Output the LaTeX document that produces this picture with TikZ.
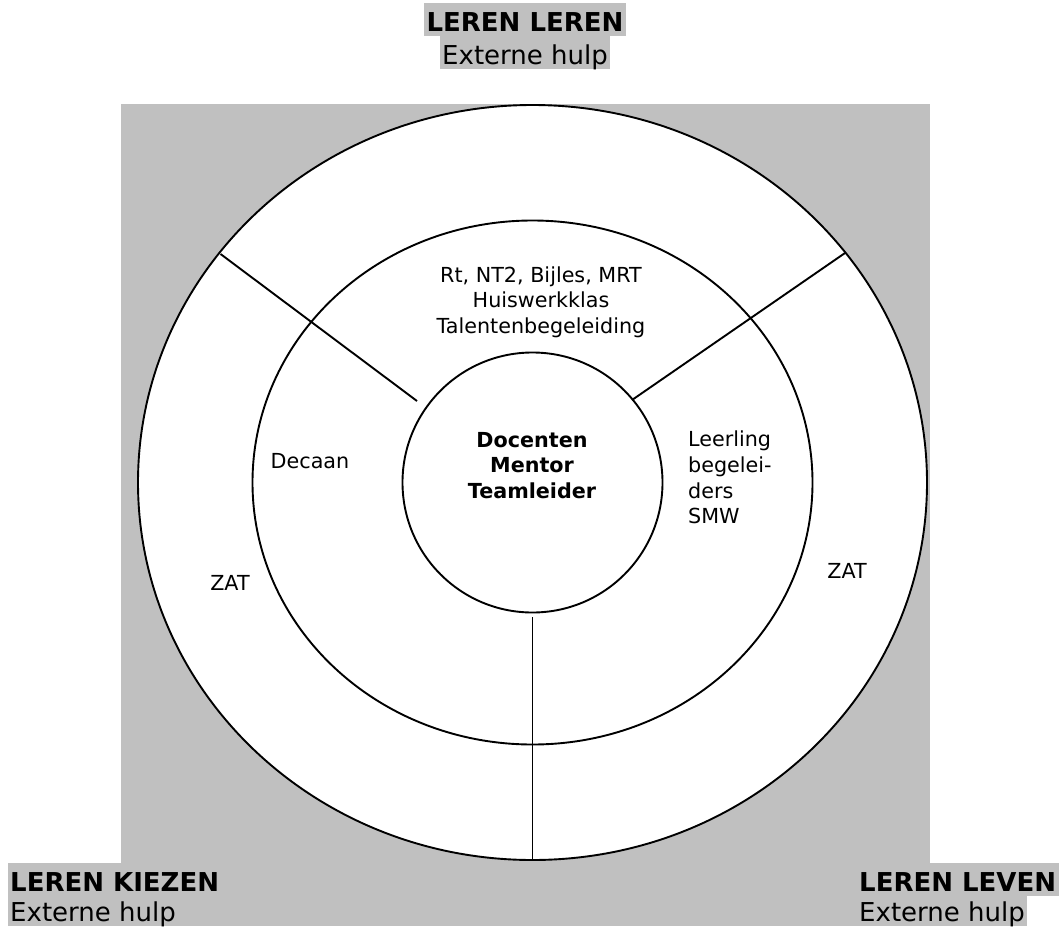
\documentclass[tikz,border=0pt]{standalone}
\usepackage{fontspec}
\setmainfont{DejaVu Sans}
\usetikzlibrary{shapes.geometric}
\definecolor{silverbg}{RGB}{192,192,192}
\begin{document}
\begin{tikzpicture}[x=1pt,y=-1pt,
  ring/.style={ellipse, draw=black, line width=1.9pt, fill=white, inner sep=0pt},
  divider/.style={draw=black, line width=1.9pt},
  lbl/.style={font=\fontsize{20.7}{25.7}\selectfont, inner sep=0pt},
  hdr/.style={font=\fontsize{26}{33}\selectfont, fill=silverbg, inner xsep=2.5pt, inner ysep=0pt, text height=28pt, text depth=5pt}]
\useasboundingbox (0,0) rectangle (1062,926);
\fill[silverbg] (121,104) rectangle (930,926);
% rings
\node[ring, minimum width=789pt, minimum height=755pt] (outer) at (532.5,482.5) {};
\node[ring, minimum width=560pt, minimum height=524pt] (middle) at (532.5,482.5) {};
\node[ring, minimum width=260pt, minimum height=260pt] (inner) at (532.5,482.5) {};
% dividers
\coordinate (dl1) at (220.5,254);
\coordinate (dl2) at (417,401);
\coordinate (dr1) at (845,253);
\coordinate (dr2) at (632,400);
\coordinate (dv1) at (532.5,617);
\coordinate (dv2) at (532.5,860);
\draw[divider] (dl1) -- (dl2);
\draw[divider] (dr1) -- (dr2);
\draw[divider] (dv1) -- (dv2);
% inner labels
\node[lbl, align=center] (services) at (541,302) {Rt, NT2, Bijles, MRT\\Huiswerkklas\\Talentenbegeleiding};
\node[lbl, align=center, font=\fontsize{20.7}{25.7}\selectfont\bfseries] (core) at (532,465.5) {Docenten\\Mentor\\Teamleider};
\node[lbl, align=left, anchor=west] (llb) at (688,477.7) {Leerling\\begelei-\\ders\\SMW};
\node[lbl, anchor=base] (decaan) at (310,468) {Decaan};
\node[lbl, anchor=base] (zatl) at (230,590) {ZAT};
\node[lbl, anchor=base] (zatr) at (847,578) {ZAT};
% headers
\node[hdr, anchor=base] (hLL) at (525,31) {\bfseries LEREN LEREN};
\node[hdr, anchor=base] (hLLx) at (525,64) {Externe hulp};
\node[hdr, anchor=base west] (hLK) at (7.5,891) {\bfseries LEREN KIEZEN};
\node[hdr, anchor=base west] (hLKx) at (7.5,921) {Externe hulp};
\node[hdr, anchor=base west] (hLV) at (856.5,891) {\bfseries LEREN LEVEN};
\node[hdr, anchor=base west] (hLVx) at (856.5,921) {Externe hulp};
\end{tikzpicture}
\end{document}
